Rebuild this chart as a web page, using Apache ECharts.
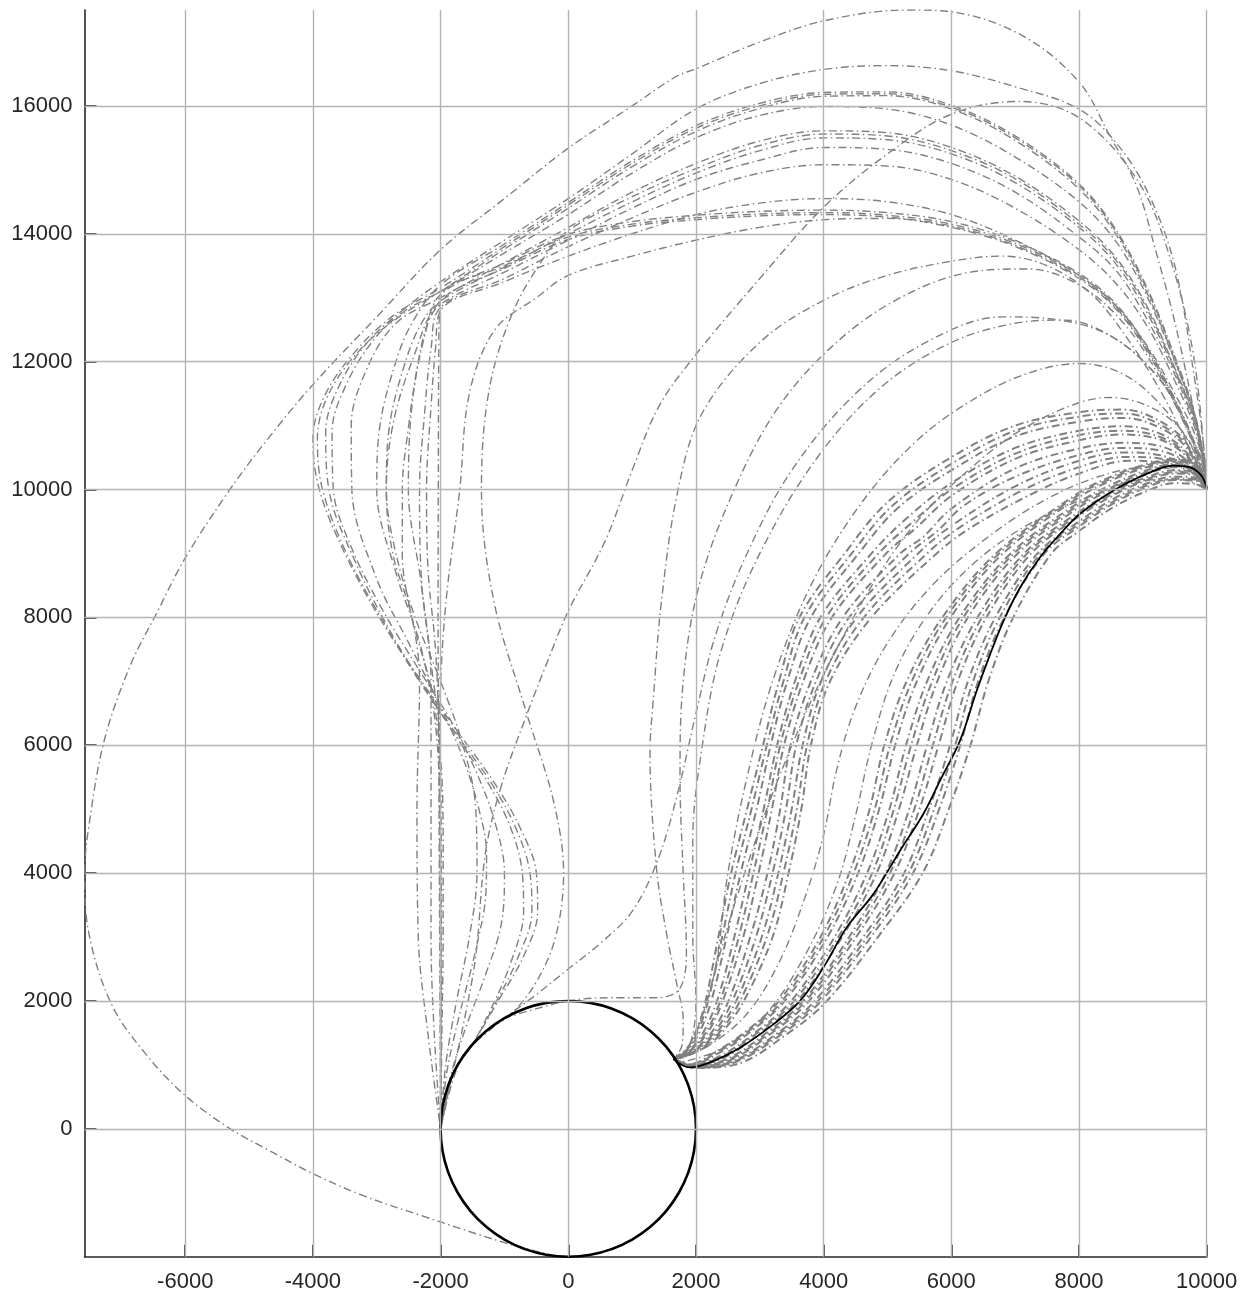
<!DOCTYPE html>
<html>
<head>
<meta charset="utf-8">
<script src="https://cdn.jsdelivr.net/npm/echarts@6/dist/echarts.min.js"></script>
<style>html,body{margin:0;padding:0;background:#fff;}#chart{width:1259px;height:1301px;}</style>
</head>
<body>
<div id="chart"></div>
<script>
// ---- tick labels ----
const xTicks = [-6000, -4000, -2000, 0, 2000, 4000, 6000, 8000, 10000];
const yTicks = [0, 2000, 4000, 6000, 8000, 10000, 12000, 14000, 16000];

// ---- obstacle circle (radius 2000) ----
const circle = [[2000,0],[1970,347],[1879,684],[1732,1000],[1532,1286],[1286,1532],[1000,1732],[684,1879],[347,1970],[0,2000],[-347,1970],[-684,1879],[-1000,1732],[-1286,1532],[-1532,1286],[-1732,1000],[-1879,684],[-1970,347],[-2000,0],[-1970,-347],[-1879,-684],[-1732,-1000],[-1532,-1286],[-1286,-1532],[-1000,-1732],[-684,-1879],[-347,-1970],[0,-2000],[347,-1970],[684,-1879],[1000,-1732],[1286,-1532],[1532,-1286],[1732,-1000],[1879,-684],[1970,-347],[2000,0]];

// ---- best path (black) ----
const bestPath = [[1645,1086],[1906,960],[2272,1060],[2690,1269],[3211,1634],[3630,2000],[3995,2522],[4360,3149],[4778,3671],[5196,4350],[5561,4924],[5823,5446],[6136,6073],[6400,6860],[6610,7430],[6820,7950],[7080,8470],[7390,8940],[7700,9300],[8015,9620],[8540,9985],[9060,10245],[9470,10375],[9730,10350],[9915,10220],[10000,10025]];

// ---- outermost path ----
const outerPath = [[-200,-1990],[-1000,-1780],[-2319,-1351],[-3200,-1050],[-4000,-701],[-4700,-330],[-5295,0],[-6000,520],[-6610,1160],[-7150,1940],[-7510,3060],[-7575,4010],[-7510,4730],[-7270,6070],[-6860,7250],[-6440,8080],[-6000,8930],[-5300,10000],[-4700,10800],[-4000,11640],[-3000,12700],[-2000,13750],[-1000,14550],[0,15340],[1000,16000],[1690,16460],[2000,16580],[3000,17000],[4000,17330],[5310,17500],[6000,17470],[7110,17100],[8000,16375],[8480,15535],[8900,14750],[9200,13740],[9500,12620],[9800,11215],[10000,10040]];

// ---- upper arcs (right halves of the left-side paths) ----
const arcA1 = [[-2000,13250],[-1000,13900],[0,14550],[1000,15250],[2000,15950],[3000,16350],[4000,16570],[5000,16630],[6000,16550],[7000,16300],[8000,15950],[8600,15400],[9100,14600],[9500,13500],[9800,11800],[9950,10700],[10000,10000]];
const arcA2 = [[-2000,13150],[-1000,13800],[0,14450],[1000,15100],[2000,15650],[3000,16000],[4000,16180],[5000,16190],[6000,15980],[7000,15500],[8000,14750],[8600,14000],[9100,13050],[9500,12060],[9800,11215],[9950,10500],[10000,10000]];
const arcA2b = [[-2000,13100],[-1000,13760],[0,14400],[1000,15050],[2000,15600],[3000,15960],[4000,16150],[5000,16160],[6000,15950],[7000,15460],[8000,14700],[8600,13960],[9100,13000],[9500,12020],[9800,11190],[9950,10500],[10000,10000]];
const arcA2c = [[-2000,13200],[-1000,13840],[0,14490],[1000,15140],[2000,15690],[3000,16040],[4000,16210],[5000,16220],[6000,16010],[7000,15530],[8000,14780],[8600,14030],[9100,13080],[9500,12080],[9800,11230],[9950,10510],[10000,10000]];
const arcA3 = [[-2000,13100],[-1000,13700],[0,14300],[1000,14950],[2000,15500],[3000,15850],[4000,15990],[5000,15950],[6000,15700],[7000,15200],[8000,14500],[8600,13850],[9100,12950],[9500,12000],[9800,11200],[9950,10500],[10000,10000]];
const arcA4 = [[-2000,13000],[-1000,13550],[0,14100],[1000,14650],[2000,15100],[3000,15450],[4000,15610],[5000,15580],[6000,15350],[7000,14900],[8000,14200],[8600,13600],[9100,12800],[9500,11900],[9800,11150],[9950,10500],[10000,10000]];
const arcA4b = [[0,14050],[1000,14580],[2000,15020],[3000,15380],[4000,15560],[5000,15530],[6000,15300],[7000,14860],[8000,14150],[8600,13560],[9100,12760],[9500,11880],[9800,11130],[9950,10480],[10000,10000]];
const arcA5 = [[-2000,12950],[-1000,13480],[0,14000],[1000,14500],[2000,14950],[3000,15300],[4000,15500],[5000,15470],[6000,15250],[7000,14800],[8000,14100],[8600,13500],[9100,12700],[9500,11850],[9800,11100],[9950,10450],[10000,10000]];
const arcA6 = [[-2000,12900],[-1000,13400],[0,13900],[1000,14400],[2000,14850],[3000,15150],[4000,15350],[5000,15320],[6000,15100],[7000,14650],[8000,13950],[8600,13400],[9100,12600],[9500,11800],[9800,11050],[9950,10450],[10000,10000]];
const arcA7 = [[-2000,12850],[-1000,13300],[0,13800],[1000,14250],[2000,14650],[3000,14950],[4000,15080],[5000,15060],[6000,14850],[7000,14400],[8000,13750],[8600,13200],[9100,12500],[9500,11700],[9800,11000],[9950,10400],[10000,10000]];
const arcA8 = [[-2000,12800],[-1000,13250],[0,13650],[1000,14000],[2000,14300],[3000,14480],[4000,14550],[5000,14500],[6000,14300],[7000,13900],[8000,13350],[8600,12850],[9100,12200],[9500,11500],[9800,10900],[9950,10400],[10000,10000]];
const arcA9 = [[-2000,13000],[-1000,13500],[0,13950],[1000,14150],[2000,14250],[3000,14310],[4000,14330],[5000,14290],[6000,14150],[7000,13850],[8000,13350],[8600,12850],[9100,12150],[9500,11400],[9800,10750],[9950,10350],[10000,10000]];
const arcA9b = [[-2000,12950],[-1000,13460],[0,13910],[1000,14120],[2000,14220],[3000,14280],[4000,14300],[5000,14260],[6000,14120],[7000,13820],[8000,13320],[8600,12820],[9100,12130],[9500,11380],[9800,10740],[9950,10340],[10000,10000]];
const arcA9c = [[-2000,13050],[-1000,13540],[0,13990],[1000,14190],[2000,14290],[3000,14350],[4000,14370],[5000,14330],[6000,14190],[7000,13880],[8000,13380],[8600,12880],[9100,12170],[9500,11420],[9800,10760],[9950,10360],[10000,10000]];
const arcA10 = [[-500,13000],[0,13350],[1000,13650],[2000,13900],[3000,14100],[4000,14220],[5000,14240],[6000,14100],[7000,13800],[8000,13300],[8600,12800],[9100,12100],[9500,11350],[9800,10700],[9950,10300],[10000,10000]];

// ---- left halves: S-shaped paths ----
const leftS1 = [[-2000,0],[-1800,870],[-1500,1320],[-1100,2000],[-700,2700],[-480,3400],[-500,4000],[-750,4700],[-1150,5400],[-1650,6100],[-2300,7000],[-2900,7900],[-3500,9000],[-3900,10000],[-4000,10800],[-3800,11500],[-3300,12200],[-2700,12750]];
const leftS2 = [[-2000,0],[-1800,870],[-1500,1320],[-1150,1950],[-800,2650],[-570,3400],[-600,4000],[-820,4700],[-1200,5400],[-1700,6100],[-2300,6950],[-2850,7850],[-3450,8950],[-3850,10000],[-3930,10800],[-3750,11500],[-3250,12200],[-2650,12700]];
const leftS3 = [[-2000,0],[-1800,870],[-1500,1320],[-1200,1900],[-900,2600],[-700,3400],[-720,4000],[-900,4700],[-1250,5400],[-1700,6050],[-2250,6900],[-2800,7800],[-3350,8900],[-3750,10000],[-3800,10900],[-3600,11600],[-3150,12300],[-2600,12800]];
const leftS4 = [[-2000,0],[-1850,800],[-1600,1600],[-1300,2400],[-1050,3200],[-1000,4000],[-1150,4800],[-1450,5600],[-1850,6400],[-2350,7200],[-2900,8100],[-3400,9100],[-3680,10000],[-3700,10900],[-3450,11700],[-3000,12400],[-2550,12800]];
const leftS5 = [[-2000,0],[-1900,900],[-1700,1800],[-1450,2800],[-1290,3700],[-1280,4300],[-1400,5000],[-1650,5800],[-2000,6600],[-2500,7600],[-3000,8600],[-3390,10000],[-3400,11000],[-3150,11900],[-2700,12600]];
const leftS6 = [[-2000,0],[-1920,1000],[-1750,2000],[-1550,3000],[-1430,4000],[-1450,5000],[-1650,6000],[-2000,7000],[-2400,8000],[-2700,9000],[-2850,10000],[-2800,11000],[-2550,12000],[-2300,12600]];

// ---- left halves: near-vertical paths ----
const leftV1 = [[-2000,0],[-1980,1500],[-1960,3000],[-1960,4500],[-2000,5800],[-2150,6900],[-2450,8000],[-2600,9000],[-2600,10000],[-2500,11000],[-2350,12000],[-2200,12600]];
const leftV2 = [[-2000,0],[-1990,2000],[-1990,4000],[-2010,6000],[-2150,7300],[-2300,8600],[-2330,10000],[-2250,11200],[-2150,12200]];
const leftV3 = [[-2000,0],[-2000,2000],[-2000,4000],[-2020,6000],[-2080,7500],[-2200,8800],[-2220,10000],[-2150,11300],[-2080,12200]];
const leftV4 = [[-2000,0],[-2010,2000],[-2020,4000],[-2030,6000],[-2040,8000],[-2036,10000],[-2030,12000]];
const leftV5 = [[-2000,0],[-2200,1500],[-2350,3000],[-2370,5000],[-2330,7000],[-2450,8000],[-2750,9000],[-2850,10000],[-2750,11000],[-2450,12000]];
const leftV6 = [[-2000,0],[-2000,2000],[-2010,4000],[-2020,6000],[-1990,7200],[-1900,8400],[-1700,10000],[-1550,11500],[-1150,12500]];
const leftV7 = [[-2000,0],[-1995,2000],[-2000,4000],[-2050,6000],[-2300,7500],[-2700,8700],[-3000,10000],[-2950,11000],[-2700,12000],[-2450,12600]];
const leftV8 = [[-2000,0],[-2100,1500],[-2150,3000],[-2150,5000],[-2150,7000],[-2300,8500],[-2505,10000],[-2450,11300],[-2250,12400]];

// ---- crossing paths ----
const leftX1 = [[-2000,0],[-1700,1050],[-1300,1520],[-900,1790],[-500,2300],[-200,3000],[-73,3990],[-230,5120],[-646,6480],[-1167,8260],[-1360,10000],[-1250,11500],[-900,12700],[-400,13600]];
const pathX2 = [[-2000,0],[-1850,700],[-1650,1600],[-1450,2700],[-1300,4300],[-1060,5330],[-650,6480],[-330,7300],[0,8100],[580,9200],[1000,10300],[1419,11300],[1958,12060],[3000,13300],[4000,14415],[5000,15250],[6000,15870],[7050,16070],[8000,15815],[8900,14860],[9390,13740],[9800,12060],[10000,10000]];

// ---- middle paths (leave the circle on its right side, climb steeply) ----
const pathC1 = [[1650,1100],[1780,1300],[1800,1700],[1700,2260],[1540,3050],[1380,4090],[1280,5900],[1330,6690],[1460,8260],[1720,10000],[2100,11200],[3000,12300],[4000,12960],[5000,13350],[6000,13570],[6800,13650],[7500,13500],[8200,13050],[8800,12300],[9300,11500],[9700,10700],[10000,10000]];
const pathC2 = [[1700,1100],[1900,1300],[2000,2000],[1950,3000],[1950,4500],[2100,6000],[2400,7500],[3000,9000],[3900,10500],[4900,11600],[6000,12300],[7000,12600],[7770,12650],[8500,12400],[9200,11800],[9700,11000],[10000,10000]];
const pathC3 = [[1750,1100],[2000,1500],[2300,2500],[2500,4000],[2800,5500],[3200,7000],[3800,8500],[4600,9800],[5500,10800],[6500,11500],[7300,11850],[8000,11970],[8700,11800],[9300,11300],[9800,10600],[10000,10000]];
const pathC4 = [[1800,1100],[2100,1800],[2600,3500],[3300,5500],[4200,7500],[5300,9300],[6500,10500],[7500,11150],[8480,11440],[9200,11250],[9700,10800],[10000,10000]];
const pathM1 = [[-1500,1320],[-1000,1730],[-500,2100],[0,2500],[500,2900],[1000,3400],[1400,4200],[1700,5200],[2000,6500],[2300,7700],[2800,9000],[3500,10300],[4500,11500],[5600,12300],[6800,12700],[7700,12650],[8500,12400],[9200,11800],[9700,11000],[10000,10000]];
const pathM2 = [[-1000,1730],[0,2000],[800,2050],[1400,2050],[1750,2200],[1850,2800],[1800,4000],[1750,5500],[1800,7000],[2050,8500],[2600,10000],[3300,11300],[4200,12300],[5200,13000],[6300,13400],[7200,13450],[8000,13200],[8700,12600],[9300,11700],[9750,10800],[10000,10000]];
const pathT1 = [[1750,1100],[2200,1300],[2800,1800],[3300,2600],[3700,3600],[4000,4600],[4200,5600],[4500,6600],[5000,7600],[5700,8500],[6500,9200],[7400,9800],[8300,10200],[9100,10350],[9700,10250],[10000,10000]];
const pathT2 = [[1800,1050],[2400,1250],[3100,1800],[3700,2700],[4200,3800],[4500,4900],[4750,6000],[5100,7100],[5600,8000],[6300,8800],[7200,9450],[8200,9900],[9000,10150],[9600,10150],[10000,10000]];

// ---- middle bundle ----
const pathR2a = [[1650,1100],[1850,1250],[2000,1500],[2150,2000],[2350,3000],[2550,4000],[2800,5000],[3050,6000],[3300,7000],[3620,8000],[4330,9000],[5000,9800],[6000,10505],[7000,11000],[8000,11210],[8700,11250],[9300,11050],[9700,10700],[10000,10000]];
const pathR2h = [[1655,1100],[1860,1240],[2020,1500],[2190,2000],[2410,3000],[2620,4000],[2870,5000],[3110,6000],[3370,7000],[3700,8000],[4440,9000],[5080,9750],[6000,10400],[7000,10920],[8000,11140],[8700,11190],[9300,11000],[9700,10670],[10000,10000]];
const pathR2b = [[1660,1100],[1870,1230],[2050,1500],[2240,2000],[2480,3000],[2700,4000],[2950,5000],[3170,6000],[3430,7000],[3800,8000],[4550,9000],[5150,9700],[6000,10300],[7000,10830],[8000,11060],[8700,11120],[9300,10950],[9700,10630],[10000,10000]];
const pathR2c = [[1670,1100],[1890,1220],[2110,1500],[2330,2000],[2600,3000],[2830,4000],[3060,5000],[3270,6000],[3550,7000],[3950,8000],[4750,9000],[5300,9550],[6000,10100],[7000,10650],[8000,10920],[8700,10990],[9300,10860],[9700,10560],[10000,10000]];
const pathR2i = [[1675,1100],[1900,1215],[2150,1500],[2380,2000],[2670,3000],[2900,4000],[3120,5000],[3320,6000],[3610,7000],[4040,8000],[4860,9000],[5380,9480],[6000,10000],[7000,10560],[8000,10850],[8700,10920],[9300,10810],[9700,10530],[10000,10000]];
const pathR2d = [[1680,1100],[1910,1210],[2180,1500],[2420,2000],[2740,3000],[2980,4000],[3190,5000],[3380,6000],[3680,7000],[4130,8000],[4980,9000],[5450,9400],[6000,9900],[7000,10480],[8000,10770],[8700,10860],[9300,10770],[9700,10500],[10000,10000]];
const pathR2e = [[1690,1100],[1930,1200],[2240,1500],[2510,2000],[2850,3000],[3120,4000],[3320,5000],[3480,6000],[3800,7000],[4300,8000],[5200,9000],[5550,9250],[6000,9700],[7000,10330],[8000,10640],[8700,10730],[9300,10670],[9700,10440],[10000,10000]];
const pathR2j = [[1695,1100],[1945,1200],[2280,1500],[2570,2000],[2940,3000],[3200,4000],[3410,5000],[3570,6000],[3880,7000],[4400,8000],[5340,9000],[5780,9350],[6200,9750],[7000,10200],[8000,10540],[8700,10650],[9300,10600],[9700,10400],[10000,10000]];
const pathR2f = [[1700,1100],[1960,1200],[2320,1500],[2630,2000],[3030,3000],[3290,4000],[3500,5000],[3670,6000],[3960,7000],[4520,8000],[5480,9000],[6000,9430],[7000,10050],[8000,10450],[8700,10580],[9300,10530],[9700,10350],[10000,10000]];
const pathR2k = [[1710,1100],[2030,1220],[2360,1500],[2690,2000],[3110,3000],[3370,4000],[3580,5000],[3740,6000],[4030,7000],[4630,8000],[5620,9000],[6150,9420],[7100,9980],[8000,10350],[8750,10510],[9350,10470],[9750,10300],[10000,10000]];
const pathR2g = [[1720,1100],[2100,1250],[2400,1500],[2750,2000],[3200,3000],[3450,4000],[3650,5000],[3800,6000],[4100,7000],[4750,8000],[5770,9000],[6300,9400],[7200,9900],[8000,10250],[8800,10450],[9400,10400],[9800,10250],[10000,10000]];

// ---- bundle around the best path ----
const pathR1a = [[1650,1100],[1900,1010],[2300,1200],[2750,1500],[3300,2000],[3950,3000],[4400,4000],[4720,5000],[4950,6000],[5300,7000],[5860,8000],[6700,9000],[8000,9950],[8500,10200],[9000,10380],[9500,10480],[9850,10380],[10000,10000]];
const pathR1j = [[1652,1098],[1900,1005],[2320,1190],[2790,1500],[3350,2000],[4000,3000],[4470,4000],[4800,5000],[5040,6000],[5380,7000],[5920,8000],[6750,9000],[8000,9920],[8500,10170],[9000,10360],[9500,10460],[9850,10370],[10000,10000]];
const pathR1b = [[1655,1095],[1900,1000],[2350,1180],[2830,1500],[3390,2000],[4060,3000],[4540,4000],[4870,5000],[5120,6000],[5460,7000],[5990,8000],[6810,9000],[8000,9880],[8500,10140],[9000,10330],[9500,10440],[9850,10350],[10000,10000]];
const pathR1c = [[1660,1090],[1910,990],[2400,1150],[2920,1500],[3490,2000],[4170,3000],[4680,4000],[5030,5000],[5290,6000],[5620,7000],[6130,8000],[6930,9000],[8000,9800],[8500,10070],[9000,10280],[9500,10400],[9850,10320],[10000,10000]];
const pathR1k = [[1662,1088],[1910,988],[2420,1135],[2960,1500],[3540,2000],[4230,3000],[4760,4000],[5100,5000],[5370,6000],[5700,7000],[6190,8000],[6980,9000],[8000,9760],[8500,10030],[9000,10250],[9500,10380],[9850,10300],[10000,10000]];
const pathR1d = [[1665,1085],[1910,985],[2450,1120],[3010,1500],[3590,2000],[4290,3000],[4830,4000],[5180,5000],[5460,6000],[5780,7000],[6260,8000],[7040,9000],[8000,9720],[8500,10000],[9000,10220],[9500,10350],[9850,10290],[10000,10000]];
const pathR1e = [[1670,1080],[1920,980],[2500,1100],[3100,1500],[3680,2000],[4400,3000],[4970,4000],[5340,5000],[5620,6000],[5930,7000],[6410,8000],[7140,9000],[8000,9650],[8500,9950],[9000,10170],[9500,10300],[9850,10250],[10000,10000]];
const pathR1l = [[1672,1078],[1925,975],[2515,1085],[3150,1500],[3720,2000],[4450,3000],[5040,4000],[5420,5000],[5710,6000],[6020,7000],[6480,8000],[7190,9000],[8000,9610],[8500,9920],[9000,10140],[9500,10270],[9850,10230],[10000,10000]];
const pathR1f = [[1675,1075],[1930,970],[2530,1070],[3190,1500],[3770,2000],[4510,3000],[5110,4000],[5500,5000],[5800,6000],[6100,7000],[6550,8000],[7250,9000],[8000,9580],[8500,9890],[9000,10120],[9500,10250],[9850,10220],[10000,10000]];
const pathR1g = [[1680,1070],[1940,965],[2560,1050],[3280,1500],[3860,2000],[4620,3000],[5260,4000],[5650,5000],[5980,6000],[6260,7000],[6690,8000],[7350,9000],[8000,9500],[8500,9830],[9000,10070],[9500,10200],[9850,10180],[10000,10000]];
const pathR1m = [[1685,1065],[1942,962],[2570,1040],[3320,1500],[3910,2000],[4680,3000],[5330,4000],[5730,5000],[6060,6000],[6340,7000],[6760,8000],[7400,9000],[8000,9460],[8500,9790],[9000,10040],[9500,10170],[9850,10150],[10000,10000]];
const pathR1h = [[1690,1060],[1945,960],[2580,1030],[3370,1500],[3960,2000],[4740,3000],[5400,4000],[5810,5000],[6140,6000],[6420,7000],[6830,8000],[7460,9000],[8000,9420],[8500,9760],[9000,10010],[9500,10150],[9850,10130],[10000,10000]];
const pathR1i = [[1700,1050],[1950,950],[2600,1000],[3450,1500],[4050,2000],[4850,3000],[5550,4000],[5960,5000],[6300,6000],[6580,7000],[6970,8000],[7570,9000],[8000,9350],[8500,9700],[9000,9950],[9500,10100],[9850,10080],[10000,10000]];

// ---- assemble gray paths ----
const thinPaths = [
  outerPath,
  leftS1.concat(arcA2), leftS2.concat(arcA2b), leftS3.concat(arcA1), leftS4.concat(arcA3),
  leftS5.concat(arcA4), leftS6.concat(arcA5),
  leftV1.concat(arcA6), leftV2.concat(arcA7), leftV3.concat(arcA8), leftV4.concat(arcA9),
  leftV5.concat(arcA9b), leftV6.concat(arcA10), leftV7.concat(arcA2c), leftV8.concat(arcA9c),
  leftX1.concat(arcA4b), pathX2,
  pathC1, pathC2, pathC3, pathC4, pathM1, pathM2, pathT1, pathT2
];
const bundlePaths = [
  pathR2a, pathR2h, pathR2b, pathR2c, pathR2i, pathR2d, pathR2e, pathR2j, pathR2f, pathR2k, pathR2g,
  pathR1a, pathR1j, pathR1b, pathR1c, pathR1k, pathR1d, pathR1e, pathR1l, pathR1f, pathR1g, pathR1m, pathR1h, pathR1i
];

const chart = echarts.init(document.getElementById('chart'), null, {renderer: 'canvas'});
const axisColor = '#262626';
const labelStyle = {fontSize: 22, color: axisColor, fontFamily: 'Liberation Sans, Arial, sans-serif'};

const series = [];
series.push({
  type: 'line', data: [[0, 0]], z: 1, silent: true, symbol: 'none',
  lineStyle: {opacity: 0},
  markLine: {
    silent: true, symbol: ['none', 'none'], label: {show: false}, animation: false,
    lineStyle: {color: '#b4b4b4', width: 1.4, type: 'solid'},
    emphasis: {disabled: true},
    data: xTicks.map(v => ({xAxis: v})).concat(yTicks.map(v => ({yAxis: v})))
  }
});
thinPaths.forEach((p, i) => {
  series.push({
    type: 'line', data: p, z: 2, silent: true, symbol: 'none', showSymbol: false,
    smooth: 0.35, clip: true,
    lineStyle: {color: '#808080', width: 1.4, type: [8, 3.5, 1.5, 3.5], dashOffset: (i * 5.3) % 16.5}
  });
});
bundlePaths.forEach((p, i) => {
  series.push({
    type: 'line', data: p, z: 2, silent: true, symbol: 'none', showSymbol: false,
    smooth: 0.35, clip: true,
    lineStyle: {color: '#808080', width: 2.0, type: [8, 3.5, 1.5, 3.5], dashOffset: (i * 4.1) % 16.5}
  });
});
series.push({
  type: 'line', data: bestPath, z: 3, silent: true, symbol: 'none', showSymbol: false,
  smooth: 0.35, lineStyle: {color: '#000000', width: 1.8, type: 'solid'}
});
series.push({
  type: 'line', data: circle, z: 4, silent: true, symbol: 'none', showSymbol: false,
  smooth: 0.5, lineStyle: {color: '#000000', width: 2.6, type: 'solid'}
});

chart.setOption({
  animation: false,
  backgroundColor: '#ffffff',
  grid: {left: 84.5, right: 52.3, top: 10, bottom: 44.3, containLabel: false},
  xAxis: {
    type: 'value', min: -7578, max: 10000,
    axisLine: {show: true, onZero: false, lineStyle: {color: axisColor, width: 1.6}},
    axisTick: {show: true, inside: true, length: 12, customValues: xTicks, lineStyle: {color: axisColor, width: 1.6}},
    axisLabel: Object.assign({customValues: xTicks, margin: 14, formatter: v => String(v)}, labelStyle),
    splitLine: {show: false}
  },
  yAxis: {
    type: 'value', min: -2000, max: 17500,
    axisLine: {show: true, onZero: false, lineStyle: {color: axisColor, width: 1.6}},
    axisTick: {show: true, inside: true, length: 12, customValues: yTicks, lineStyle: {color: axisColor, width: 1.6}},
    axisLabel: Object.assign({customValues: yTicks, margin: 12, formatter: v => String(v)}, labelStyle),
    splitLine: {show: false}
  },
  series: series
});
</script>
</body>
</html>
